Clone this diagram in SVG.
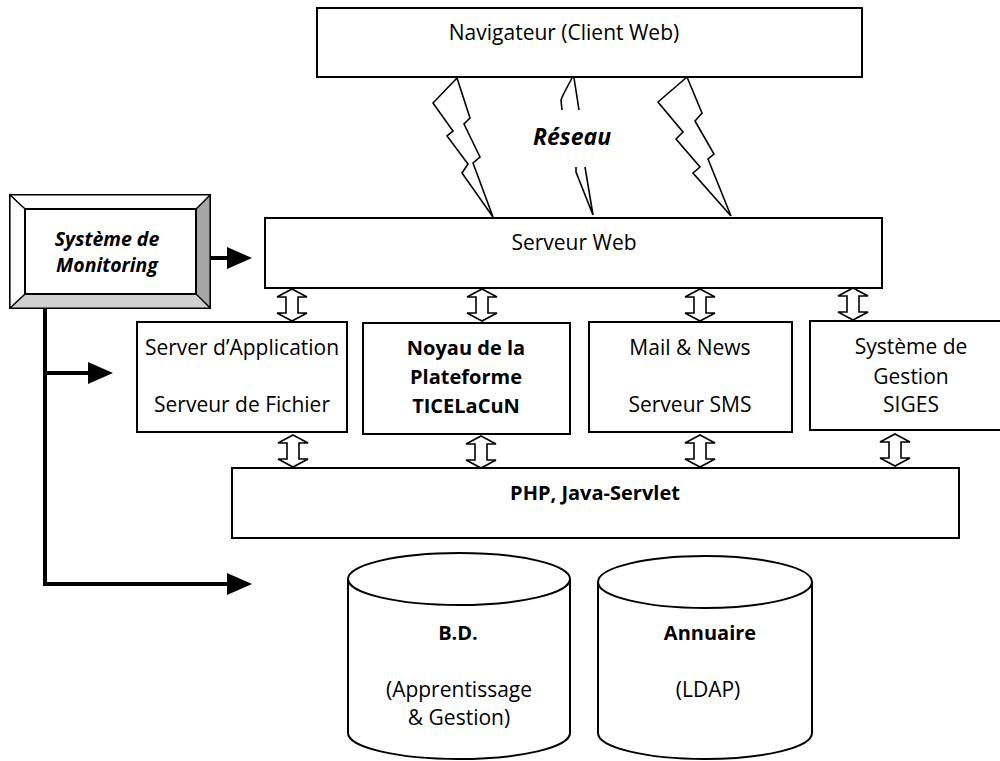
<svg xmlns="http://www.w3.org/2000/svg" width="1000" height="761" viewBox="0 0 1000 761">
<defs>
<style>
.box{fill:#fff;stroke:#000;stroke-width:2}
.t{font-family:"Open Sans","Liberation Sans",sans-serif;font-size:21px;fill:#000;text-anchor:middle}
.b{font-weight:bold;font-size:20px}
.bi{font-weight:bold;font-style:italic}
.bolt{fill:none;stroke:#000;stroke-width:1.6;stroke-linejoin:miter}
.da{fill:#fff;stroke:#000;stroke-width:1.6}
.mon{fill:none;stroke:#000;stroke-width:4}
.head{fill:#000}
</style>
<path id="dbl" d="M0,0 L15,8 L6,8 L6,24 L15,24 L0,32 L-15,24 L-6,24 L-6,8 L-15,8 Z"/>
</defs>
<rect width="1000" height="761" fill="#fff"/>

<g id="navigateur">
<rect class="box" x="317" y="8" width="545" height="69"/>
<text class="t" x="564" y="40">Navigateur (Client Web)</text>
</g>

<g id="reseau">
<polygon class="bolt" points="457,78 433,103 453,131 447,136 468,164 462,173 493,217 473,163 480,157 464,124 470,118"/>
<polyline class="bolt" points="572,78 563,95 561,100 562,110"/>
<polyline class="bolt" points="574,78 579,110"/>
<polyline class="bolt" points="576,167 576,172 593,215 585,167"/>
<polygon class="bolt" points="687,77 658,102 683,132 676,139 700,167 693,173 731,216 708,159 714,154 695,121 702,113"/>
<text class="t bi" x="572" y="145" style="font-size:23px">Réseau</text>
</g>

<g id="monitoring">
<rect x="10" y="195" width="200" height="113" fill="#fff" stroke="#000" stroke-width="2"/>
<polygon points="196,209 210,195 210,308 196,294" fill="#a6a6a6" stroke="#000" stroke-width="1.2"/>
<polygon points="10,308 25,294 196,294 210,308" fill="#d0d0d0" stroke="#000" stroke-width="1.2"/>
<polygon points="10,195 25,209 196,209 210,195" fill="#fff" stroke="#000" stroke-width="1.2"/>
<polygon points="10,195 25,209 25,294 10,308" fill="#fff" stroke="#000" stroke-width="1.2"/>
<rect x="25" y="209" width="171" height="85" fill="#fff" stroke="#000" stroke-width="2"/>
<text class="t bi" x="107" y="246" style="font-size:19.5px">Système de</text>
<text class="t bi" x="107" y="272" style="font-size:19.5px">Monitoring</text>
</g>

<g id="serveur-web">
<rect class="box" x="265" y="218" width="617" height="70"/>
<text class="t" x="574" y="250">Serveur Web</text>
</g>

<g id="server-application">
<rect class="box" x="137" y="322" width="210" height="110"/>
<text class="t" x="242" y="355">Server d’Application</text>
<text class="t" x="242" y="412">Serveur de Fichier</text>
</g>

<g id="noyau">
<rect class="box" x="363" y="323" width="207" height="111"/>
<text class="t b" x="466" y="355">Noyau de la</text>
<text class="t b" x="466" y="384">Plateforme</text>
<text class="t b" x="466" y="413">TICELaCuN</text>
</g>

<g id="mail-news">
<rect class="box" x="589" y="322" width="203" height="110"/>
<text class="t" x="690" y="355">Mail &amp; News</text>
<text class="t" x="690" y="412">Serveur SMS</text>
</g>

<g id="siges">
<rect class="box" x="810" y="321" width="202" height="109"/>
<text class="t" x="911" y="354">Système de</text>
<text class="t" x="911" y="384">Gestion</text>
<text class="t" x="911" y="412">SIGES</text>
</g>

<g id="php">
<rect class="box" x="232" y="468" width="727" height="70"/>
<text class="t b" x="595" y="500">PHP, Java-Servlet</text>
</g>

<g id="bd">
<path d="M348,579 L348,733 A111,26 0 0 0 570,733 L570,579" fill="#fff" stroke="#000" stroke-width="2"/>
<ellipse cx="459" cy="579" rx="111" ry="26" fill="#fff" stroke="#000" stroke-width="2"/>
<text class="t b" x="458" y="640">B.D.</text>
<text class="t" x="459" y="697">(Apprentissage</text>
<text class="t" x="459" y="725">&amp; Gestion)</text>
</g>

<g id="annuaire">
<path d="M598,582 L598,733 A107,26 0 0 0 812,733 L812,582" fill="#fff" stroke="#000" stroke-width="2"/>
<ellipse cx="705" cy="582" rx="107" ry="26" fill="#fff" stroke="#000" stroke-width="2"/>
<text class="t b" x="710" y="640">Annuaire</text>
<text class="t" x="708" y="697">(LDAP)</text>
</g>

<g id="connectors">
<use href="#dbl" class="da" x="292" y="289"/>
<use href="#dbl" class="da" x="482" y="289"/>
<use href="#dbl" class="da" x="700" y="289"/>
<use href="#dbl" class="da" x="853" y="288"/>
<use href="#dbl" class="da" x="293" y="435"/>
<use href="#dbl" class="da" x="481" y="436"/>
<use href="#dbl" class="da" x="700" y="435"/>
<use href="#dbl" class="da" x="895" y="434"/>
<line class="mon" x1="211" y1="258" x2="230" y2="258"/>
<polygon class="head" points="227,247 252,258 227,269"/>
<polyline class="mon" points="45,308 45,584 230,584"/>
<polygon class="head" points="227,573 252,584 227,595"/>
<line class="mon" x1="45" y1="373" x2="90" y2="373"/>
<polygon class="head" points="88,362 113,373 88,384"/>
</g>
</svg>
